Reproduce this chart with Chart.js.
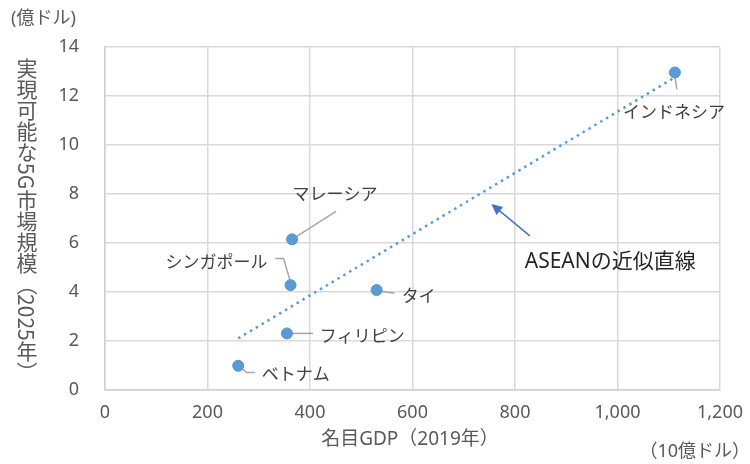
<!DOCTYPE html>
<html>
<head>
<meta charset="utf-8">
<script src="https://cdn.jsdelivr.net/npm/chart.js@4.4.1/dist/chart.umd.min.js"></script>
<style>
  body { margin: 0; background: #fff; }
  #wrap { position: relative; width: 750px; height: 464px; }
  #ytitle {
    position: absolute; left: 15px; top: 58px;
    writing-mode: vertical-rl; text-orientation: mixed;
    font: 21px 'Noto Sans CJK JP', sans-serif; line-height: 24px; color: #595959;
  }
</style>
</head>
<body>
<div id="wrap">
  <canvas id="chart" width="750" height="464"></canvas>
  <div id="ytitle">実現可能な5G市場規模（2025年）</div>
</div>
<script>
// data
const countries = ['インドネシア', 'マレーシア', 'シンガポール', 'タイ', 'フィリピン', 'ベトナム'];
const gdp2019 = [1112, 365, 362, 530, 355, 260];      // 10億ドル
const market5g = [12.96, 6.15, 4.28, 4.08, 2.31, 0.99]; // 億ドル
const trendX = [260, 1112];
const trendY = [2.11, 12.76];
const xTicks = [0, 200, 400, 600, 800, 1000, 1200];
const yTicks = [0, 2, 4, 6, 8, 10, 12, 14];

const FONT = "'Noto Sans', 'Noto Sans CJK JP', sans-serif";
const JP = "'Noto Sans CJK JP', sans-serif";

// label placement relative to each point (px)
const labelLayout = [
  { dx: -1, dy: 39, align: 'center', leader: [[0, 4], [2, 17]] },
  { dx: 43, dy: -46, align: 'center', leader: [[3, -2], [44, -28]] },
  { dx: -23, dy: -23.5, align: 'right', leader: [[0, -3], [-7, -26.7], [-15.3, -26.7]] },
  { dx: 25, dy: 6, align: 'left', leader: [[2, 1], [18, 3.3]] },
  { dx: 32.7, dy: 2.5, align: 'left', leader: [[0, 0], [26, 0]] },
  { dx: 23.4, dy: 7.5, align: 'left', leader: [[0, 0], [8.4, 6.7], [16.7, 6.7]] }
];

const annotations = {
  id: 'annotations',
  beforeDatasetsDraw(chart) {
    const ctx = chart.ctx;
    const pts = chart.getDatasetMeta(0).data;
    ctx.save();
    ctx.strokeStyle = '#a6a6a6';
    ctx.lineWidth = 1.5;
    pts.forEach((p, i) => {
      const lay = labelLayout[i];
      ctx.beginPath();
      lay.leader.forEach(([ox, oy], k) => {
        if (k === 0) ctx.moveTo(p.x + ox, p.y + oy);
        else ctx.lineTo(p.x + ox, p.y + oy);
      });
      ctx.stroke();
    });
    ctx.restore();
  },
  afterDatasetsDraw(chart) {
    const ctx = chart.ctx;
    const x = chart.scales.x, y = chart.scales.y;
    const pts = chart.getDatasetMeta(0).data;
    ctx.save();
    ctx.fillStyle = '#404040';
    ctx.font = '17px ' + JP;
    ctx.textBaseline = 'middle';
    pts.forEach((p, i) => {
      const lay = labelLayout[i];
      ctx.textAlign = lay.align;
      ctx.fillText(countries[i], p.x + lay.dx, p.y + lay.dy);
    });

    // arrow pointing at the trend line
    const tx = x.getPixelForValue(754), ty = y.getPixelForValue(7.59);
    const sx = x.getPixelForValue(829), sy = y.getPixelForValue(6.29);
    const ang = Math.atan2(ty - sy, tx - sx);
    ctx.strokeStyle = '#4472c4';
    ctx.fillStyle = '#4472c4';
    ctx.lineWidth = 1.5;
    ctx.beginPath();
    ctx.moveTo(sx, sy);
    ctx.lineTo(tx - Math.cos(ang) * 8, ty - Math.sin(ang) * 8);
    ctx.stroke();
    ctx.beginPath();
    ctx.moveTo(tx, ty);
    ctx.lineTo(tx - Math.cos(ang - 0.45) * 12, ty - Math.sin(ang - 0.45) * 12);
    ctx.lineTo(tx - Math.cos(ang + 0.45) * 12, ty - Math.sin(ang + 0.45) * 12);
    ctx.closePath();
    ctx.fill();

    ctx.fillStyle = '#262626';
    ctx.font = '21px ' + FONT;
    ctx.textAlign = 'left';
    ctx.fillText('ASEANの近似直線', x.getPixelForValue(819), y.getPixelForValue(5.24));

    // axis titles / units
    ctx.fillStyle = '#595959';
    ctx.font = '19px ' + FONT;
    ctx.textAlign = 'center';
    ctx.fillText('名目GDP（2019年）', 410, 440);
    ctx.font = '18px ' + FONT;
    ctx.textAlign = 'left';
    ctx.fillText('(億ドル)', 11, 19);
    ctx.textAlign = 'right';
    ctx.fillText('（10億ドル）', 750, 452);
    ctx.restore();
  }
};

new Chart(document.getElementById('chart'), {
  type: 'scatter',
  data: {
    datasets: [{
      label: '5G市場規模',
      data: gdp2019.map((g, i) => ({ x: g, y: market5g[i] })),
      backgroundColor: '#5b9bd5',
      borderColor: '#5592cc',
      borderWidth: 1,
      pointRadius: 5.5,
      order: 0
    }, {
      label: 'ASEANの近似直線',
      type: 'line',
      data: trendX.map((v, i) => ({ x: v, y: trendY[i] })),
      borderColor: '#5b9bd5',
      borderWidth: 2.5,
      borderDash: [2.5, 4.3],
      pointRadius: 0,
      fill: false,
      order: 1
    }]
  },
  options: {
    responsive: false,
    animation: false,
    layout: { padding: { left: 0, right: 30, top: 47, bottom: 0 } },
    plugins: { legend: { display: false }, tooltip: { enabled: false } },
    scales: {
      x: {
        type: 'linear',
        min: xTicks[0],
        max: xTicks[xTicks.length - 1],
        afterFit(axis) { axis.height = 74; axis.paddingLeft = 0; axis.paddingRight = 0; },
        afterBuildTicks(axis) { axis.ticks = xTicks.map(v => ({ value: v })); },
        grid: { color: '#d9d9d9', lineWidth: 1.5, drawTicks: false },
        border: { color: '#d0d0d0', width: 1.5 },
        ticks: {
          padding: 12,
          color: '#595959',
          font: { family: FONT, size: 18 },
          callback: v => v.toLocaleString('en-US')
        }
      },
      y: {
        type: 'linear',
        min: yTicks[0],
        max: yTicks[yTicks.length - 1],
        afterFit(axis) { axis.width = 105; axis.paddingTop = 0; axis.paddingBottom = 0; },
        afterBuildTicks(axis) { axis.ticks = yTicks.map(v => ({ value: v })); },
        grid: { color: '#d9d9d9', lineWidth: 1.5, drawTicks: false },
        border: { color: '#d0d0d0', width: 1.5 },
        ticks: {
          padding: 26,
          color: '#595959',
          font: { family: FONT, size: 18 }
        }
      }
    }
  },
  plugins: [annotations]
});
</script>
</body>
</html>
